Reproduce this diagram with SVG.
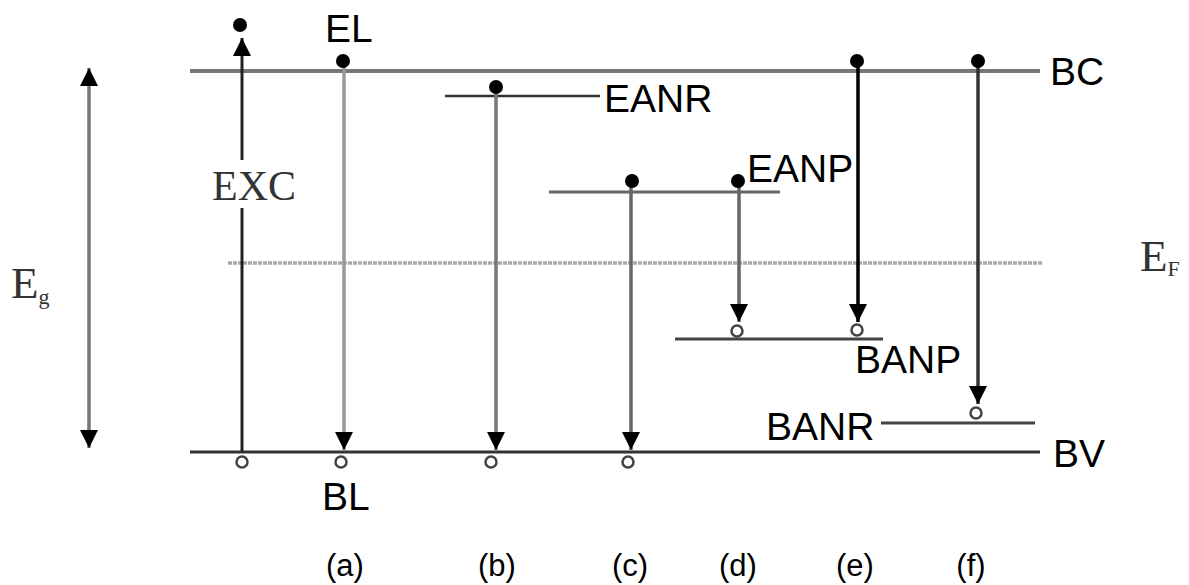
<svg xmlns="http://www.w3.org/2000/svg" width="1189" height="585" viewBox="0 0 1189 585">
<style>
.lbl{font-family:"Liberation Sans",Arial,sans-serif;font-size:39px;fill:#000}
.sub{font-family:"Liberation Sans",Arial,sans-serif;font-size:31px;fill:#000;text-anchor:middle}
.ser{font-family:"Liberation Serif","Times New Roman",serif;fill:#333}
.dot{fill:#000}
.hole{fill:#fff;stroke:#444;stroke-width:2.5}
</style>
<defs>
<marker id="ah" viewBox="0 0 18 18" markerWidth="18" markerHeight="18" refX="18" refY="9" orient="auto-start-reverse" markerUnits="userSpaceOnUse">
<path d="M0,0 L18,9 L0,18 z" fill="#000"/>
</marker>
</defs>
<rect width="1189" height="585" fill="#fff"/>
<g id="levels">
<line id="BC-line" x1="190" y1="71" x2="1040" y2="71" stroke="#777" stroke-width="4"/>
<line id="BV-line" x1="190" y1="452" x2="1040" y2="452" stroke="#333" stroke-width="3"/>
<line id="EF-line" x1="228" y1="263" x2="1043" y2="263" stroke="#aaa" stroke-width="3.5" stroke-dasharray="4,1"/>
<line id="EANR-line" x1="445" y1="96" x2="600" y2="96" stroke="#333" stroke-width="2.5"/>
<line id="EANP-line" x1="549" y1="192" x2="780" y2="192" stroke="#666" stroke-width="3"/>
<line id="BANP-line" x1="675" y1="339" x2="883" y2="339" stroke="#444" stroke-width="3"/>
<line id="BANR-line" x1="881" y1="423" x2="1035" y2="423" stroke="#444" stroke-width="3"/>
</g>
<g id="connectors">
<line x1="89" y1="68" x2="89" y2="448" stroke="#777" stroke-width="3.5" marker-start="url(#ah)" marker-end="url(#ah)"/>
<line x1="242" y1="452" x2="242" y2="208" stroke="#222" stroke-width="3"/>
<line x1="242" y1="160" x2="242" y2="38" stroke="#222" stroke-width="3" marker-end="url(#ah)"/>
<line x1="344" y1="61" x2="344" y2="450" stroke="#999" stroke-width="3.5" marker-end="url(#ah)"/>
<line x1="496" y1="87" x2="496" y2="450" stroke="#777" stroke-width="3.5" marker-end="url(#ah)"/>
<line x1="631" y1="181" x2="631" y2="450" stroke="#666" stroke-width="3.5" marker-end="url(#ah)"/>
<line x1="739" y1="181" x2="739" y2="322" stroke="#666" stroke-width="3.5" marker-end="url(#ah)"/>
<line x1="858" y1="61" x2="858" y2="322" stroke="#000" stroke-width="3.5" marker-end="url(#ah)"/>
<line x1="978" y1="61" x2="978" y2="404" stroke="#333" stroke-width="3.5" marker-end="url(#ah)"/>
</g>
<g id="electrons">
<circle class="dot" cx="240" cy="25" r="7"/>
<circle class="dot" cx="343" cy="61" r="7"/>
<circle class="dot" cx="496" cy="87" r="7"/>
<circle class="dot" cx="632" cy="181" r="7"/>
<circle class="dot" cx="738" cy="181" r="7"/>
<circle class="dot" cx="857" cy="61" r="7"/>
<circle class="dot" cx="978" cy="61" r="7"/>
</g>
<g id="holes">
<circle class="hole" cx="242" cy="462" r="5.5"/>
<circle class="hole" cx="341" cy="462" r="5.5"/>
<circle class="hole" cx="491" cy="462" r="5.5"/>
<circle class="hole" cx="628" cy="462" r="5.5"/>
<circle class="hole" cx="737" cy="331" r="5.5"/>
<circle class="hole" cx="857" cy="330" r="5.5"/>
<circle class="hole" cx="976" cy="413" r="5.5"/>
</g>
<g id="labels">
<text class="lbl" x="325" y="42">EL</text>
<text class="lbl" x="1050" y="85">BC</text>
<text class="lbl" x="604" y="112">EANR</text>
<text class="lbl" x="747" y="182">EANP</text>
<text class="lbl" x="855" y="373">BANP</text>
<text class="lbl" x="766" y="440">BANR</text>
<text class="lbl" x="1053" y="467">BV</text>
<text class="lbl" x="322" y="510">BL</text>
<text class="ser" x="212" y="200" font-size="42" fill="#444">EXC</text>
<text class="ser" x="11" y="298" font-size="45">E<tspan font-size="22" dy="6">g</tspan></text>
<text class="ser" x="1140" y="271" font-size="45">E<tspan font-size="22" dy="5">F</tspan></text>
</g>
<g id="cases">
<text class="sub" x="345" y="576">(a)</text>
<text class="sub" x="497" y="576">(b)</text>
<text class="sub" x="630" y="576">(c)</text>
<text class="sub" x="738" y="576">(d)</text>
<text class="sub" x="855" y="576">(e)</text>
<text class="sub" x="971" y="576">(f)</text>
</g>
</svg>
